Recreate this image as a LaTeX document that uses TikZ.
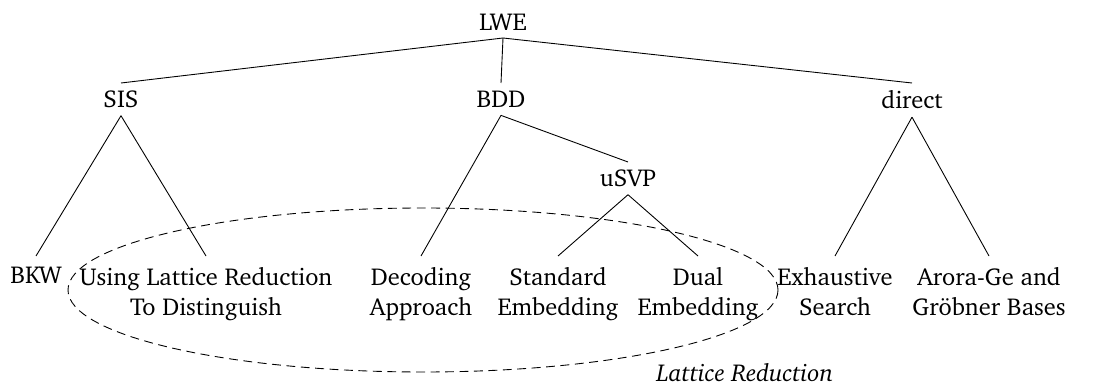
\documentclass[tikz,border=0pt]{standalone}
\usepackage[T1]{fontenc}
\usepackage{charter}
\usetikzlibrary{positioning}

\begin{document}
\begin{tikzpicture}[x=0.45pt,y=-0.45pt,
    every node/.style={font=\fontsize{11pt}{13.5pt}\selectfont},
    inner/.style={anchor=north},
    leaf/.style={anchor=north, align=center, inner ysep=4.7pt},
    branch/.style={draw, line width=0.4pt}]

\useasboundingbox (0,0) rectangle (1098,385);

%---------------------------------------
% Root and the three ways in
%---------------------------------------
\node[anchor=south] (lwe) at (503,38) {LWE};
\node[inner] (sis)    at (121,83) {SIS};
\node[inner] (bdd)    at (501,83) {BDD};
\node[inner] (direct) at (912,83) {direct};
\node[inner] (usvp)   at (628,162) {uSVP};

%---------------------------------------
% Leaves: the concrete attacks
%---------------------------------------
\node[leaf] (bkw)   at (36,256)  {BKW};
\node[leaf] (dist)  at (206,256) {Using Lattice Reduction\\To Distinguish};
\node[leaf] (dec)   at (421,256) {Decoding\\Approach};
\node[leaf] (std)   at (558,256) {Standard\\Embedding};
\node[leaf] (dual)  at (698,256) {Dual\\Embedding};
\node[leaf] (exh)   at (835,256) {Exhaustive\\Search};
\node[leaf] (arora) at (989,256) {Arora-Ge and\\Gr\"obner Bases};

% Tree edges
\draw[branch] (lwe.south) -- (sis.north);
\draw[branch] (lwe.south) -- (bdd.north);
\draw[branch] (lwe.south) -- (direct.north);

\draw[branch] (sis.south) -- (bkw.north);
\draw[branch] (sis.south) -- (dist.north);
\draw[branch] (bdd.south) -- (dec.north);
\draw[branch] (bdd.south) -- (usvp.north);
\draw[branch] (usvp.south) -- (std.north);
\draw[branch] (usvp.south) -- (dual.north);
\draw[branch] (direct.south) -- (exh.north);
\draw[branch] (direct.south) -- (arora.north);

% Everything that relies on lattice reduction
\draw[dashed, dash pattern=on 4pt off 2.5pt] (423,290) ellipse [x radius=355, y radius=82];
\node[font=\fontsize{11pt}{13.5pt}\selectfont\itshape] (latred) at (745,373) {Lattice Reduction};

\end{tikzpicture}
\end{document}
